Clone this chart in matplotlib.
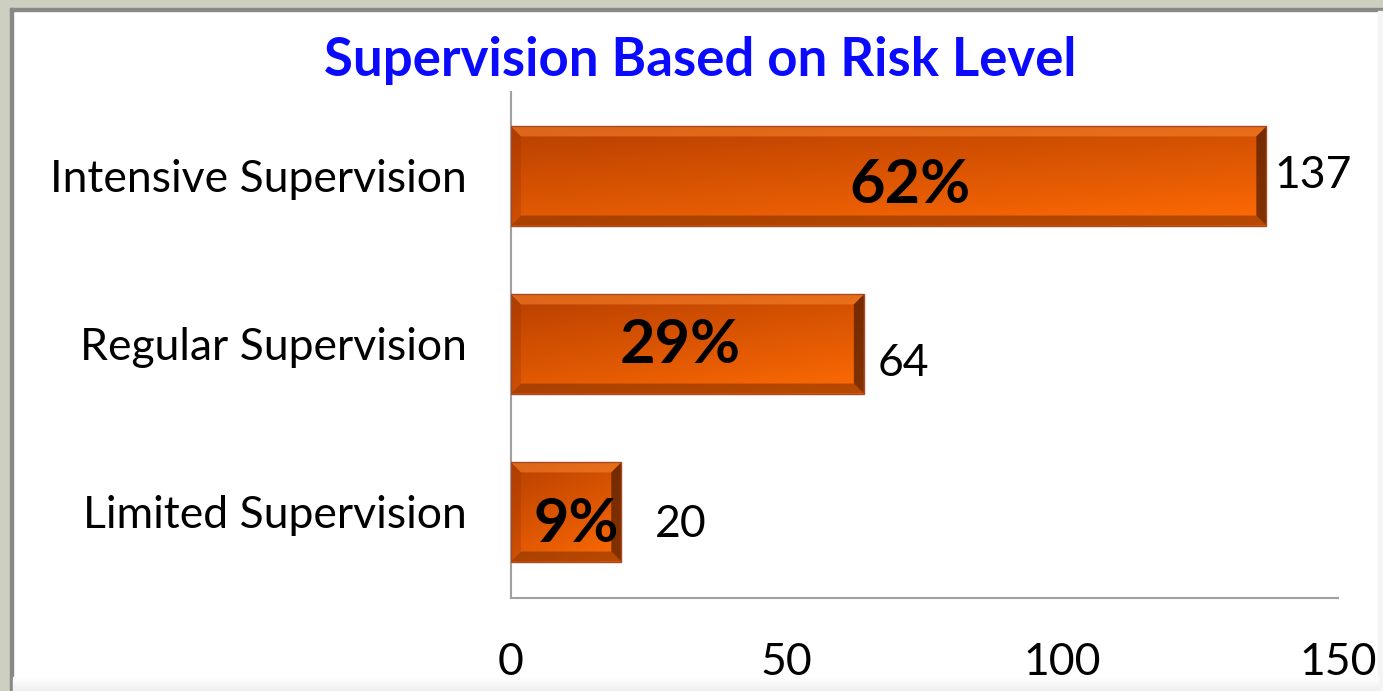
import numpy as np
import matplotlib.pyplot as plt
from matplotlib.patches import Rectangle, Polygon

# data (bottom to top)
categories = ['Limited Supervision', 'Regular Supervision', 'Intensive Supervision']
counts = [20, 64, 137]
shares = ['9%', '29%', '62%']
xticks = [0, 50, 100, 150]

# label nudges in pixels (dx, dy) -- hand placed labels in the original
share_off = [(10, -30), (-7, -19.5), (21, -27.5)]
count_off = [(34, -25), (14, -32.5), (8, -12.5)]

W, H = 1383, 691
plt.rcParams['font.family'] = ['Lato', 'DejaVu Sans']
fig = plt.figure(figsize=(W / 100, H / 100), dpi=100)
fig.patch.set_facecolor('white')

# window frame
fig.patches.append(Rectangle((0, 0), 10 / W, 1, transform=fig.transFigure, color='#cdd0c0', zorder=0))
fig.patches.append(Rectangle((0, 1 - 8 / H), 1, 8 / H, transform=fig.transFigure, color='#cdd0c0', zorder=0))
fig.patches.append(Rectangle((10 / W, 0), 2.5 / W, 1 - 8 / H, transform=fig.transFigure, color='#888888', zorder=1))
fig.patches.append(Rectangle((10 / W, 1 - 10.5 / H), 1 - 10 / W, 2.5 / H, transform=fig.transFigure, color='#888888', zorder=1))
fig.patches.append(Rectangle((1 - 5 / W, 0), 5 / W, 1 - 10.5 / H, transform=fig.transFigure, color='#f4f4f4', zorder=1))
for k in range(14):
    g = 1 - 0.07 * (14 - k) / 14
    fig.patches.append(Rectangle((12.5 / W, k / H), 1 - 17.5 / W, 1 / H, transform=fig.transFigure,
                                 color=(g, g, g), zorder=1))

ax = fig.add_axes([511 / W, 93 / H, 827 / W, 506 / H])
ax.set_xlim(0, 150)
ax.set_ylim(-0.512, 2.5)
ax.set_facecolor('none')

y = np.arange(len(categories))
h = 0.59
bars = ax.barh(y, counts, height=h, color='#e05500', edgecolor='none', zorder=2)

# gradient + bevel on each bar (dark top-left -> bright bottom-right)
bx = 10 * 150 / 827
by = 10 * 3.012 / 506
c0 = np.array([0.72, 0.25, 0.0])
c1 = np.array([1.0, 0.42, 0.02])
gy, gx = np.mgrid[0:1:60j, 0:1:200j]
for yi, v in zip(y, counts):
    x0, x1 = 0, v
    y0, y1 = yi - h / 2, yi + h / 2
    t = np.clip(0.65 * gy + 0.35 * gx, 0, 1)[..., None]
    img = c0 * (1 - t) + c1 * t
    ax.imshow(img, extent=[x0, x1, y0, y1], origin='upper', aspect='auto', zorder=3,
              interpolation='bilinear')
    ax.add_patch(Polygon([(x0, y1), (x1, y1), (x1 - bx, y1 - by), (x0 + bx, y1 - by)],
                         closed=True, color=(1.0, 0.55, 0.2), alpha=0.5, lw=0, zorder=4))
    ax.add_patch(Polygon([(x0, y0), (x1, y0), (x1 - bx, y0 + by), (x0 + bx, y0 + by)],
                         closed=True, color=(0.45, 0.16, 0.0), alpha=0.5, lw=0, zorder=4))
    ax.add_patch(Polygon([(x1, y0), (x1, y1), (x1 - bx, y1 - by), (x1 - bx, y0 + by)],
                         closed=True, color=(0.30, 0.10, 0.0), alpha=0.7, lw=0, zorder=4))
    ax.add_patch(Polygon([(x0, y0), (x0, y1), (x0 + bx, y1 - by), (x0 + bx, y0 + by)],
                         closed=True, color=(0.60, 0.20, 0.0), alpha=0.3, lw=0, zorder=4))
    ax.add_patch(Rectangle((x0, y0), v, h, fill=False, edgecolor='#a84a20', lw=1, zorder=5))

for i, (v, s) in enumerate(zip(counts, shares)):
    ax.annotate(s, xy=(v / 2, y[i]), xytext=share_off[i], textcoords='offset pixels',
                ha='center', va='baseline', fontsize=44, fontweight='bold', color='black', zorder=6)
    ax.annotate(str(v), xy=(v, y[i]), xytext=count_off[i], textcoords='offset pixels',
                ha='left', va='baseline', fontsize=32, color='black', zorder=6)

ax.set_yticks(y)
ax.set_yticklabels(categories, fontsize=32)
ax.set_xticks(xticks)
ax.set_xticklabels([str(t) for t in xticks], fontsize=32)
ax.tick_params(length=0)
ax.tick_params(axis='y', pad=32)
ax.tick_params(axis='x', pad=32)
for s in ['top', 'right']:
    ax.spines[s].set_visible(False)
for s in ['left', 'bottom']:
    ax.spines[s].set_color('#a0a0a0')
    ax.spines[s].set_linewidth(1.5)

fig.text(700 / W, 1 - 76 / H, 'Supervision Based on Risk Level', ha='center', va='baseline',
         fontsize=38, fontweight='bold', color='#0a0aff')

fig.savefig('out.png', dpi=100)
